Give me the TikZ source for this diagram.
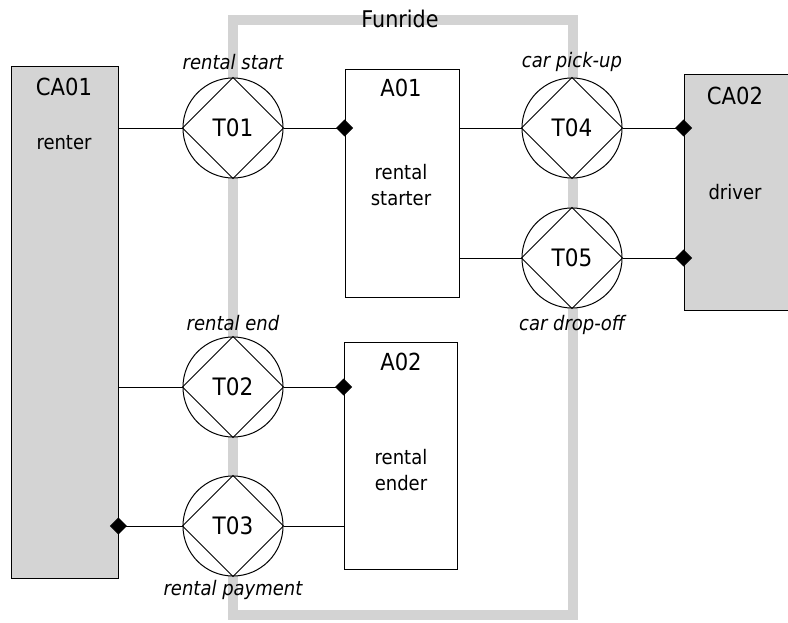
\documentclass[tikz,border=0pt]{standalone}
\usepackage{fontspec}
\setmainfont{DejaVu Sans Condensed}
\usetikzlibrary{arrows.meta}
\definecolor{framegray}{RGB}{211,211,211}
\definecolor{actorgray}{RGB}{212,212,212}
\tikzset{
  actorbox/.style={draw=black, fill=actorgray, line width=0.9pt, rectangle, inner sep=0pt},
  akbox/.style={draw=black, fill=white, line width=0.9pt, rectangle, inner sep=0pt},
  trans/.style={draw=black, fill=white, circle, line width=1pt, minimum size=100pt, inner sep=0pt},
  head/.style={font=\fontsize{23.5}{26}\selectfont, inner sep=0pt},
  tcode/.style={font=\fontsize{24}{26}\selectfont, inner sep=0pt},
  body/.style={font=\fontsize{20}{26}\selectfont, align=center, inner sep=0pt},
  tlabel/.style={font=\fontsize{20}{24}\selectfont\itshape, inner sep=0pt},
  conn/.style={line width=0.9pt},
  initiator/.style={conn, -{Diamond[length=17pt,width=17pt]}, shorten >=-8.5pt},
}
\begin{document}
\begin{tikzpicture}[x=1pt,y=-1pt]
\useasboundingbox (0,0) rectangle (788,623);
% system boundary
\draw[framegray, line width=10pt] (233,20) rectangle (573,615);
\node[font=\fontsize{23}{26}\selectfont, inner sep=0pt] (funride) at (400,19) {Funride};
% actor roles
\node[actorbox, minimum width=107pt, minimum height=512pt] (CA01) at (64.5,322) {};
\node[head] (ca01t) at (64,87) {CA01};
\node[body] (ca01n) at (64,143) {renter};
\node[actorbox, minimum width=108pt, minimum height=236pt] (CA02) at (738,192) {};
\node[head] (ca02t) at (735,96) {CA02};
\node[body] (ca02n) at (735,192) {driver};
% elementary actors
\node[akbox, minimum width=114pt, minimum height=228pt] (A01) at (402,183) {};
\node[head] (a01t) at (401,88) {A01};
\node[body] (a01n) at (401,185) {rental\\starter};
\node[akbox, minimum width=113pt, minimum height=227pt] (A02) at (400.5,455.5) {};
\node[head] (a02t) at (401,362) {A02};
\node[body] (a02n) at (401,470) {rental\\ender};
% transactions
\foreach \n/\x/\y in {T01/233/128, T02/233/387, T03/233/526, T04/572/128, T05/572/258}{
  \node[trans] (\n) at (\x,\y) {};
  \draw[line width=0.9pt] (\n.north) -- (\n.east) -- (\n.south) -- (\n.west) -- cycle;
  \node[tcode] at (\n) {\n};
}
% transaction labels
\node[tlabel] (l1) at (233,62) {rental start};
\node[tlabel] (l2) at (233,323) {rental end};
\node[tlabel] (l3) at (233,590) {rental payment};
\node[tlabel] (l4) at (572,62) {car pick-up};
\node[tlabel] (l5) at (572,325) {car drop-off};
% connectors
\draw[conn] (CA01.east |- T01) -- (T01.west);
\draw[initiator] (T01.east) -- (A01.west |- T01);
\draw[conn] (A01.east |- T04) -- (T04.west);
\draw[initiator] (T04.east) -- (CA02.west |- T04);
\draw[conn] (A01.east |- T05) -- (T05.west);
\draw[initiator] (T05.east) -- (CA02.west |- T05);
\draw[conn] (CA01.east |- T02) -- (T02.west);
\draw[initiator] (T02.east) -- (A02.west |- T02);
\draw[initiator] (T03.west) -- (CA01.east |- T03);
\draw[conn] (T03.east) -- (A02.west |- T03);
\end{tikzpicture}
\end{document}
